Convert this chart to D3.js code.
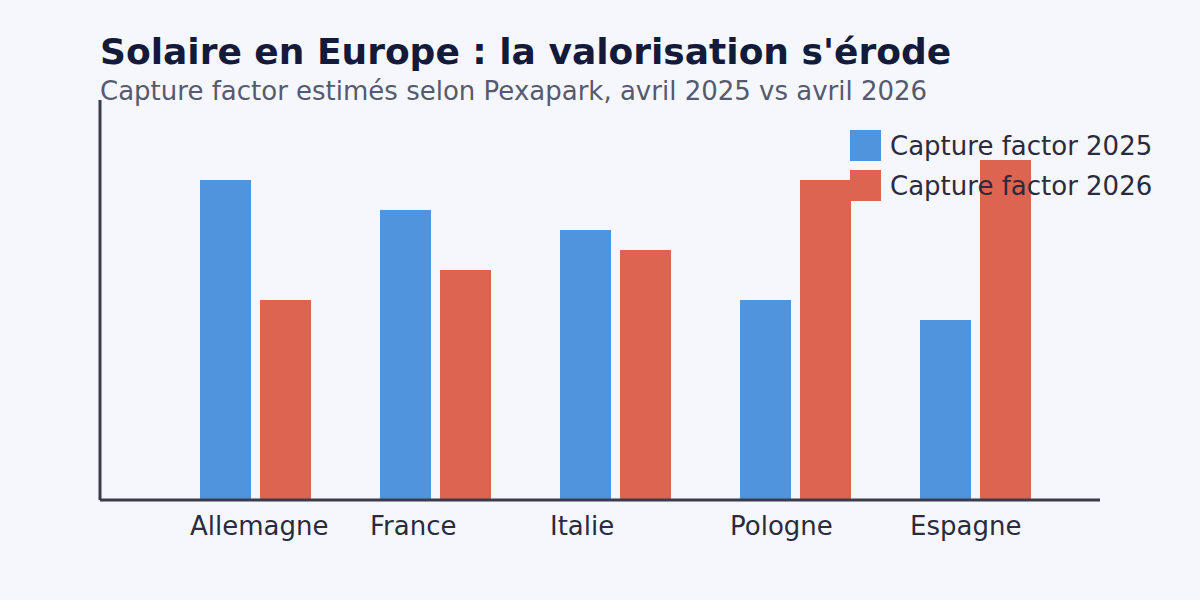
<!DOCTYPE html>
<html>
<head>
<meta charset="utf-8">
<script src="https://cdn.jsdelivr.net/npm/d3@7"></script>
<style>
  body { margin: 0; background: #f5f7fc; }
  svg { display: block; font-family: "DejaVu Sans", sans-serif; }
</style>
</head>
<body>
<div id="chart"></div>
<script>
// data
const countries = ['Allemagne', 'France', 'Italie', 'Pologne', 'Espagne'];
const seriesNames = ['Capture factor 2025', 'Capture factor 2026'];
const capture2025 = [0.80, 0.725, 0.675, 0.50, 0.45];
const capture2026 = [0.50, 0.575, 0.625, 0.80, 0.85];
const colors = ['#4f94dc', '#dd6450'];

const W = 1200, H = 600;
const svg = d3.select('#chart').append('svg')
  .attr('width', W)
  .attr('height', H);

svg.append('rect').attr('width', W).attr('height', H).attr('fill', '#f5f7fc');

const rows = countries.map((c, i) => ({
  country: c,
  values: [capture2025[i], capture2026[i]]
}));

const x0 = d3.scaleBand()
  .domain(countries)
  .range([190, 1090]);

const x1 = d3.scaleBand()
  .domain(seriesNames)
  .range([10, 120])
  .paddingInner(1/6);

const y = d3.scaleLinear()
  .domain([0, 1])
  .range([500, 100]);

// bars
const groups = svg.selectAll('.grp')
  .data(rows)
  .enter().append('g')
  .attr('class', 'grp')
  .attr('transform', d => 'translate(' + x0(d.country) + ',0)');

groups.selectAll('rect')
  .data(d => d.values.map((v, i) => ({ key: seriesNames[i], v: v, i: i })))
  .enter().append('rect')
  .attr('x', d => x1(d.key))
  .attr('width', x1.bandwidth() + 1)
  .attr('y', d => y(d.v))
  .attr('height', d => y(0) - y(d.v))
  .attr('fill', d => colors[d.i]);

// axes lines
svg.append('line')
  .attr('x1', 100).attr('x2', 100)
  .attr('y1', y(1)).attr('y2', y(0))
  .attr('stroke', '#3a3b4d').attr('stroke-width', 3);
svg.append('line')
  .attr('x1', 100).attr('x2', 1100)
  .attr('y1', y(0)).attr('y2', y(0))
  .attr('stroke', '#3a3b4d').attr('stroke-width', 3);

// category labels, left aligned
svg.selectAll('.cat')
  .data(countries)
  .enter().append('text')
  .attr('class', 'cat')
  .attr('x', d => x0(d))
  .attr('y', 535)
  .attr('font-size', 26)
  .attr('fill', '#2a2b3d')
  .text(d => d);

// title
svg.append('text')
  .attr('x', 100).attr('y', 64)
  .attr('font-size', 36)
  .attr('font-weight', 'bold')
  .attr('fill', '#141a3a')
  .text("Solaire en Europe : la valorisation s'érode");

svg.append('text')
  .attr('x', 100).attr('y', 100)
  .attr('font-size', 26)
  .attr('fill', '#555a70')
  .text('Capture factor estimés selon Pexapark, avril 2025 vs avril 2026');

// legend
const legend = svg.selectAll('.leg')
  .data(seriesNames)
  .enter().append('g')
  .attr('class', 'leg')
  .attr('transform', (d, i) => 'translate(850,' + (130 + i * 40) + ')');
legend.append('rect')
  .attr('width', 31).attr('height', 31)
  .attr('fill', (d, i) => colors[i]);
legend.append('text')
  .attr('x', 40).attr('y', 25)
  .attr('font-size', 26)
  .attr('fill', '#2a2b3d')
  .text(d => d);
</script>
</body>
</html>
